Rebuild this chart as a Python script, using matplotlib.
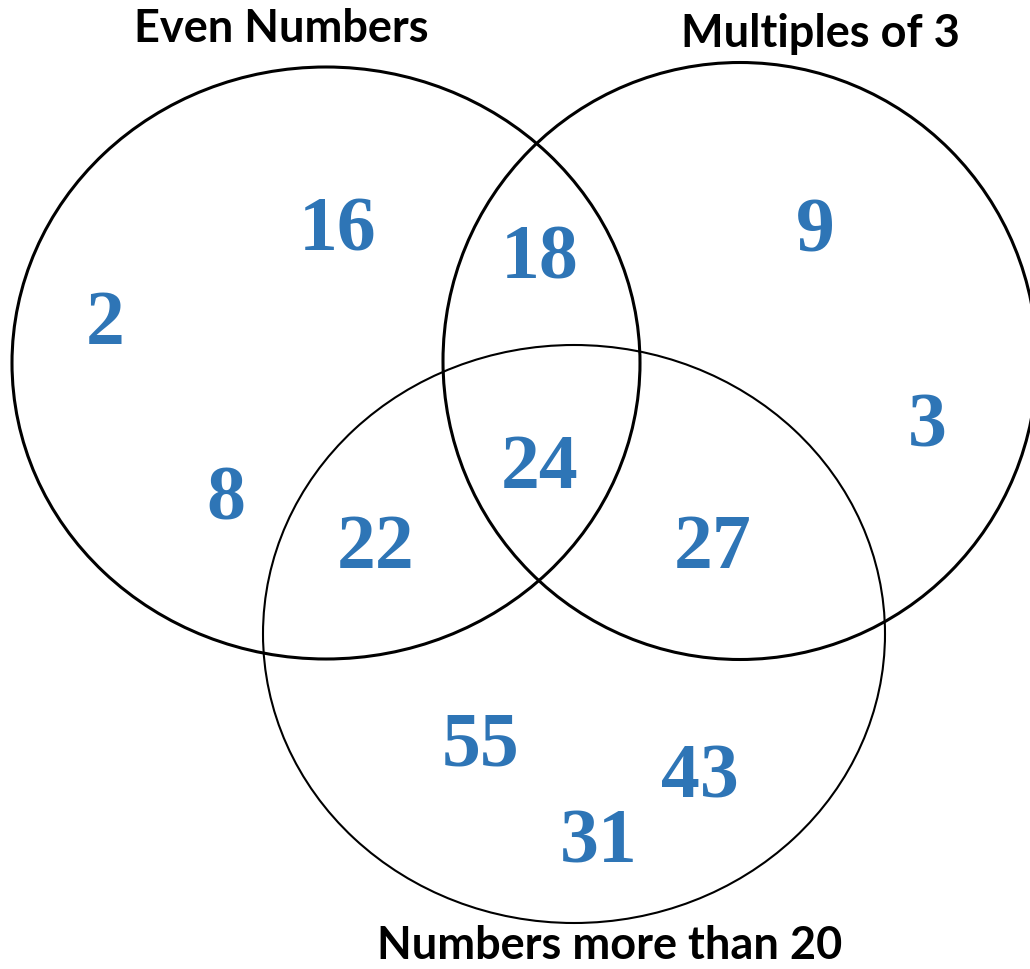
import matplotlib
matplotlib.use('Agg')
import matplotlib.pyplot as plt
from matplotlib.patches import Ellipse

# set names and where the outlines sit (pixel coords of the picture)
set_names = ['Even Numbers', 'Multiples of 3', 'Numbers more than 20']
set_centres = [(326, 363), (740, 361), (574, 634)]
set_widths = [628, 594, 622]
set_heights = [592, 597, 578]
set_lw = [2.2, 2.2, 1.5]
name_pos = [(281, 29), (820, 34), (610, 946)]

# numbers placed in the regions
numbers = ['16', '2', '8', '18', '9', '3', '24', '22', '27', '55', '43', '31']
num_pos = [(338, 232), (105, 326), (226, 501), (540, 260), (815, 233), (927, 428),
           (540, 469), (376, 550), (713, 549), (481, 747), (700, 779), (599, 844)]

blue = '#2E75B6'

fig = plt.figure(figsize=(10.30, 9.69), dpi=100)
ax = fig.add_axes([0, 0, 1, 1])
ax.set_xlim(0, 1030)
ax.set_ylim(969, 0)
ax.axis('off')

for c, w, h, lw in zip(set_centres, set_widths, set_heights, set_lw):
    ax.add_patch(Ellipse(c, w, h, fill=False, edgecolor='black', lw=lw))

for name, (x, y) in zip(set_names, name_pos):
    ax.text(x, y, name, ha='center', va='center', fontsize=32.5, fontweight='bold',
            family='Lato', color='black')

for n, (x, y) in zip(numbers, num_pos):
    ax.text(x, y, n, ha='center', va='center', fontsize=56, fontweight='bold',
            family='Liberation Serif', color=blue)

fig.savefig('out.png', dpi=100)
